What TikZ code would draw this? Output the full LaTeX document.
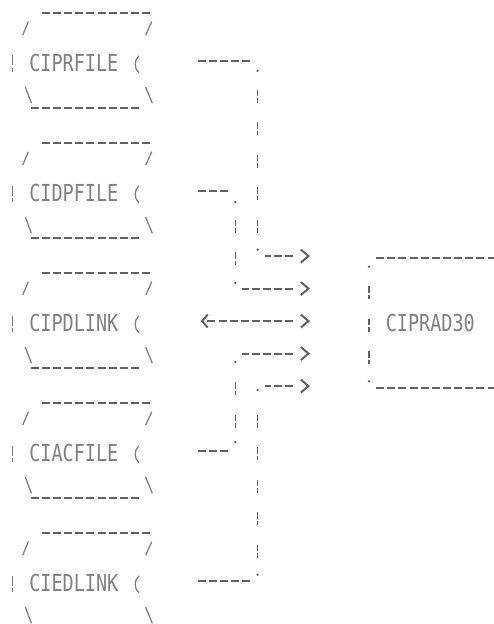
\documentclass[tikz,border=0pt]{standalone}
\usepackage{fontspec}
\newfontfamily\printfont[FakeStretch=0.79]{DejaVu Sans Mono}
\usetikzlibrary{positioning, arrows.meta}
\colorlet{inkgray}{black!62}

\begin{document}
\begin{tikzpicture}
    [
        x=5.57pt, y=-16.25pt, node distance=65pt and 178.24pt, on grid,
        name_node/.style={inner sep=0pt, text=black!50, font=\printfont\fontsize{11.7}{14}\selectfont},
        glyph/.style={draw=black!52, line width=0.6pt},
        h_dash/.style={draw=inkgray, line width=1pt, dash pattern=on 4pt off 1.57pt},
        lead_dash/.style={h_dash, shorten >=3.56pt},
        v_bar/.style={draw=inkgray, line width=0.8pt, dash pattern=on 3.2pt off 1pt on 2.3pt off 9.75pt, shorten <=14.3pt, shorten >=11.5pt},
        in_arrow/.style={h_dash, {Straight Barb[length=3.8pt, width=6.5pt]}-, shorten >=3.56pt,
            dash pattern=on 0pt off 7pt on 4pt off 1.57pt on 4pt off 1.57pt on 4pt off 1.57pt on 4pt off 1.57pt on 4pt off 1.57pt on 4pt off 1.57pt on 4pt off 1.57pt on 4pt off 1.57pt},
        file_box/.pic={
            \draw[h_dash] (2.64,0.52) -- (12.36,0.52);
            \draw[glyph] (0.92,1.2) -- (1.42,0.79);
            \draw[glyph] (11.96,1.2) -- (12.5,0.79);
            \draw[glyph, dash pattern=on 5pt off 1.2pt] (0,1.83) -- (0,2.34);
            \draw[glyph] (11.35,1.84) to[bend right=50] (11.35,2.36);
            \draw[glyph] (1.15,2.8) -- (1.7,3.3);
            \draw[glyph] (11.95,2.8) -- (12.55,3.3);
            \draw[h_dash] (1.64,3.45) -- (11.36,3.45);
        },
    ]
        \useasboundingbox (-1.122,0.123) rectangle (43.13,19.32);

        \pic at (0,0) {file_box};
        \pic at (0,4) {file_box};
        \pic at (0,8) {file_box};
        \pic at (0,12) {file_box};
        \pic at (0,16) {file_box};

        \node[name_node] (prfile) at (5.5,2.06) {CIPRFILE};
        \node[name_node] (dpfile) [below = of prfile] {CIDPFILE};
        \node[name_node] (pdlink) [below = of dpfile] {CIPDLINK};
        \node[name_node] (acfile) [below = of pdlink] {CIACFILE};
        \node[name_node] (edlink) [below = of acfile] {CIEDLINK};
        \node[name_node] (rad30) [right = of pdlink] {CIPRAD30};

        \coordinate (pr_out) at (16.64,2);
        \coordinate (pr_j1) at (22,2);
        \coordinate (pr_j2) at (22,8);
        \coordinate (pr_in) at (26.7,8);
        \coordinate (dp_out) at (16.64,6);
        \coordinate (dp_j1) at (20,6);
        \coordinate (dp_j2) at (20,9);
        \coordinate (dp_in) at (26.7,9);
        \coordinate (pd_out) at (16.9,10);
        \coordinate (pd_in) at (26.7,10);
        \coordinate (ac_out) at (16.64,14);
        \coordinate (ac_j1) at (20,14);
        \coordinate (ac_j2) at (20,11);
        \coordinate (ac_in) at (26.7,11);
        \coordinate (ed_out) at (16.64,18);
        \coordinate (ed_j1) at (22,18);
        \coordinate (ed_j2) at (22,12);
        \coordinate (ed_in) at (26.7,12);
        \coordinate (rad_tl) at (32,8.05);
        \coordinate (rad_tr) at (43.6,8.05);
        \coordinate (rad_bl) at (32,12.05);
        \coordinate (rad_br) at (43.6,12.05);

        % CIPRFILE
        \draw[lead_dash] (pr_out) -- (pr_j1);
        \draw[v_bar] (pr_j1) -- (pr_j2);
        \draw[in_arrow] (pr_in) -- (pr_j2);
        % CIDPFILE
        \draw[lead_dash] (dp_out) -- (dp_j1);
        \draw[v_bar] (dp_j1) -- (dp_j2);
        \draw[in_arrow] (dp_in) -- (dp_j2);
        % CIPDLINK
        \draw[in_arrow, {Straight Barb[length=3.8pt, width=6.5pt]}-{Straight Barb[length=2.8pt, width=6.5pt]}, shorten >=0pt] (pd_in) -- (pd_out);
        % CIACFILE
        \draw[lead_dash] (ac_out) -- (ac_j1);
        \draw[v_bar] (ac_j2) -- (ac_j1);
        \draw[in_arrow] (ac_in) -- (ac_j2);
        % CIEDLINK
        \draw[lead_dash] (ed_out) -- (ed_j1);
        \draw[v_bar] (ed_j2) -- (ed_j1);
        \draw[in_arrow] (ed_in) -- (ed_j2);
        % CIPRAD30
        \draw[h_dash, shorten <=3.56pt] (rad_tl) -- (rad_tr);
        \draw[v_bar] (rad_tl) -- (rad_bl);
        \draw[h_dash, shorten <=3.56pt] (rad_bl) -- (rad_br);

        \fill[inkgray] ([yshift=-4.9pt]pr_j1) circle (0.65pt) ([yshift=3.2pt]pr_j2) circle (0.65pt)
            ([yshift=-5.5pt]dp_j1) circle (0.65pt) ([yshift=2.8pt]dp_j2) circle (0.65pt)
            ([yshift=-4.2pt]ac_j2) circle (0.65pt) ([yshift=4.5pt]ac_j1) circle (0.65pt)
            ([yshift=-2pt]ed_j2) circle (0.65pt) ([yshift=3.2pt]ed_j1) circle (0.65pt)
            ([yshift=-4.5pt]rad_tl) circle (0.65pt) ([yshift=3.2pt]rad_bl) circle (0.65pt);
    \end{tikzpicture}
\end{document}
